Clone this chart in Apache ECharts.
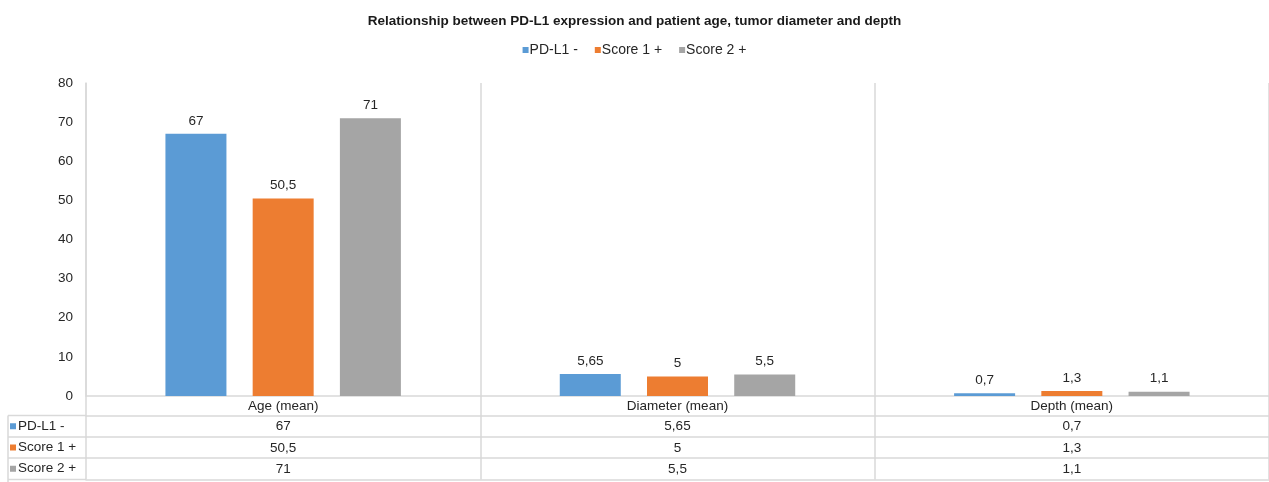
<!DOCTYPE html>
<html>
<head>
  <meta charset="UTF-8">
  <title>PD-L1</title>
  <style>
    html, body { margin: 0; padding: 0; background: #fff; }
    #main { width: 1269px; height: 482px; }
  </style>
  <script src="https://cdn.jsdelivr.net/npm/echarts@6/dist/echarts.min.js"></script>
</head>
<body>
<div id="main"></div>
<script type="text/javascript">
  const categories = ['Age (mean)', 'Diameter (mean)', 'Depth (mean)'];
  const seriesNames = ['PD-L1 -', 'Score 1 +', 'Score 2 +'];
  const pdl1Neg = [67, 5.65, 0.7];
  const score1 = [50.5, 5, 1.3];
  const score2 = [71, 5.5, 1.1];
  const yTicks = { min: 0, max: 80, interval: 10 };

  const colors = ['#5b9bd5', '#ed7d31', '#a5a5a5'];
  const lineColor = '#d9d9d9';
  const textColor = '#262626';
  const font = 'Liberation Sans, Arial, sans-serif';
  const fs = 13.5;

  // 逗号小数
  const fmt = v => String(v).replace('.', ',');

  const chart = echarts.init(document.getElementById('main'));

  const gridLeft = 86, gridBottom = 86, gridTop = 83;
  const rowOffsets = [19.5, 41, 62, 83.5]; // 表格各行上边线相对 x 轴的偏移
  const allData = [pdl1Neg, score1, score2];

  // 表格行: 每行一个类目轴
  const tableAxes = allData.map((arr, i) => ({
    type: 'category',
    position: 'bottom',
    offset: rowOffsets[i],
    data: arr.map(fmt),
    axisLine: { show: true, lineStyle: { color: lineColor, width: 1.5 } },
    axisTick: { show: true, length: rowOffsets[i + 1] - rowOffsets[i], lineStyle: { color: lineColor, width: 1.5 } },
    axisLabel: { margin: 4, fontSize: fs, color: textColor, fontFamily: font },
    splitLine: { show: false },
    name: '{sq| }{t|' + seriesNames[i] + '}',
    nameLocation: 'start',
    nameGap: gridLeft - 10,
    nameTextStyle: {
      align: 'left',
      verticalAlign: 'middle',
      padding: [rowOffsets[i + 1] - rowOffsets[i], 0, 0, 0],
      rich: {
        sq: { width: 6, height: 6, backgroundColor: colors[i] },
        t: { fontSize: fs, color: textColor, fontFamily: font, padding: [0, 0, 0, 2] }
      }
    }
  }));

  // 表格最下边线
  tableAxes.push({
    type: 'category',
    position: 'bottom',
    offset: rowOffsets[3],
    data: categories,
    axisLine: { show: true, lineStyle: { color: lineColor, width: 1.5 } },
    axisTick: { show: false },
    axisLabel: { show: false }
  });

  const option = {
    animation: false,
    color: colors,
    textStyle: { fontFamily: font },
    title: {
      text: 'Relationship between PD-L1 expression and patient age, tumor diameter and depth',
      left: 'center',
      top: 9,
      textStyle: { fontSize: 13.5, fontWeight: 'bold', color: '#1a1a1a', fontFamily: font }
    },
    legend: {
      top: 38,
      left: 'center',
      itemWidth: 6,
      itemHeight: 6,
      itemGap: 17,
      icon: 'rect',
      textStyle: { fontSize: 14, color: textColor, fontFamily: font, padding: [0, 0, 0, -4] },
      data: seriesNames
    },
    grid: { left: gridLeft, right: 0, top: gridTop, bottom: gridBottom, containLabel: false },
    xAxis: [{
      type: 'category',
      data: categories,
      axisLine: { show: true, lineStyle: { color: lineColor, width: 1.5 } },
      axisTick: { show: true, length: rowOffsets[0], lineStyle: { color: lineColor, width: 1.5 } },
      axisLabel: { margin: 3, fontSize: fs, color: textColor, fontFamily: font },
      splitLine: { show: true, lineStyle: { color: lineColor, width: 1.5 } }
    }].concat(tableAxes),
    yAxis: {
      type: 'value',
      min: yTicks.min,
      max: yTicks.max,
      interval: yTicks.interval,
      axisLine: { show: true, lineStyle: { color: lineColor, width: 1.5 } },
      axisTick: { show: false },
      splitLine: { show: false },
      axisLabel: { margin: 13, fontSize: fs, color: textColor, fontFamily: font }
    },
    series: allData.map((arr, i) => ({
      name: seriesNames[i],
      type: 'bar',
      xAxisIndex: 0,
      data: arr,
      barWidth: 61,
      barGap: '43%',
      label: {
        show: true,
        position: 'top',
        distance: 6,
        fontSize: fs,
        color: textColor,
        fontFamily: font,
        formatter: p => fmt(p.value)
      }
    }))
  };

  chart.setOption(option);

  // 表头列的边框线
  const h = chart.getHeight();
  const axisY = h - gridBottom;
  const colLeft = 8;
  const lines = [];
  rowOffsets.forEach(off => {
    lines.push({
      type: 'line',
      shape: { x1: colLeft, y1: axisY + off, x2: gridLeft, y2: axisY + off },
      style: { stroke: lineColor, lineWidth: 1.5 }
    });
  });
  lines.push({
    type: 'line',
    shape: { x1: colLeft, y1: axisY + rowOffsets[0], x2: colLeft, y2: h },
    style: { stroke: lineColor, lineWidth: 1.5 }
  });
  chart.setOption({ graphic: lines });
</script>
</body>
</html>
